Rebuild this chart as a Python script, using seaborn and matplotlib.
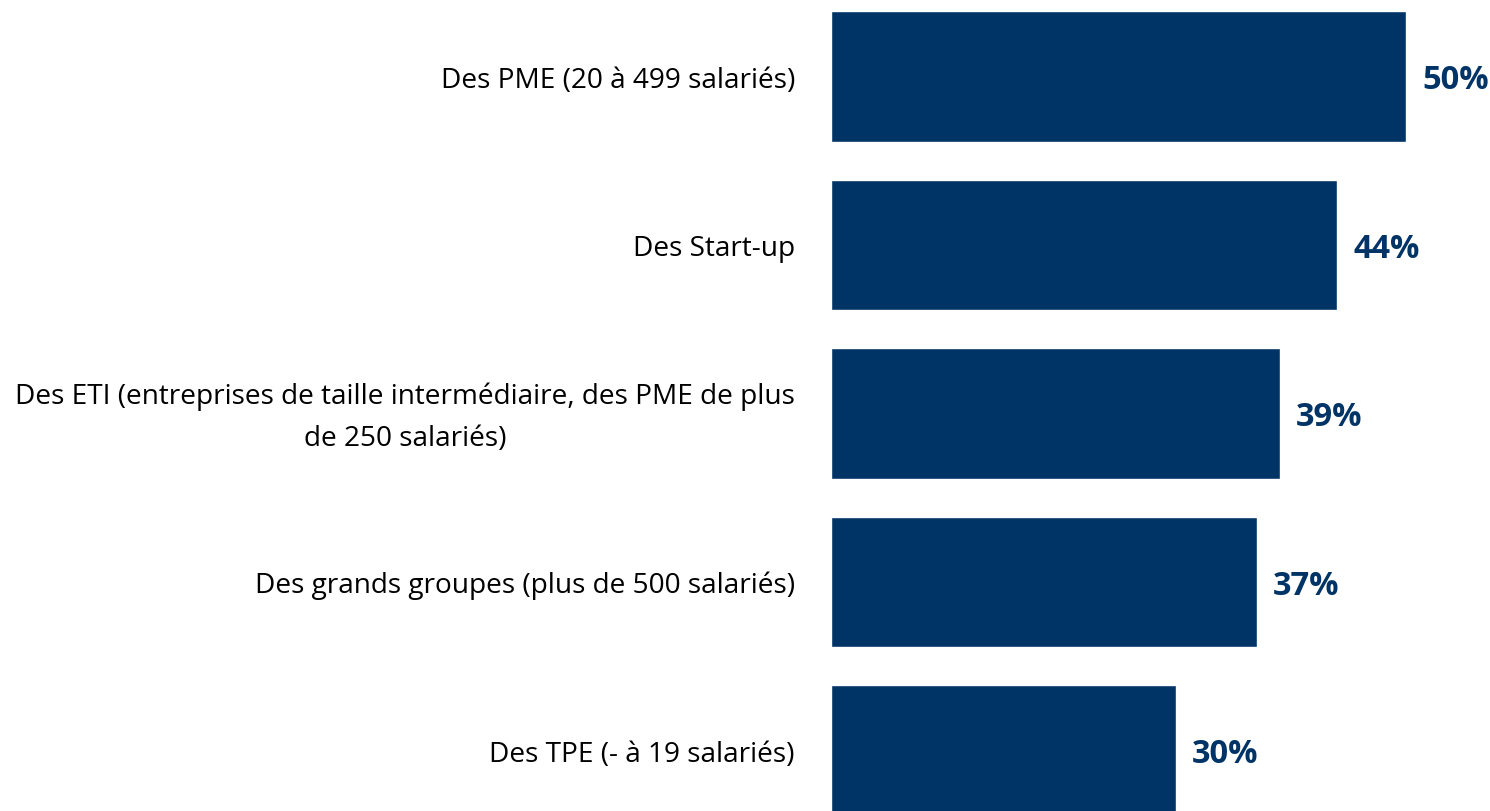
import matplotlib
matplotlib.use("Agg")
import matplotlib.pyplot as plt
import seaborn as sns
import pandas as pd

categories = [
    "Des PME (20 à 499 salariés)",
    "Des Start-up",
    "Des ETI (entreprises de taille intermédiaire, des PME de plus\nde 250 salariés)",
    "Des grands groupes (plus de 500 salariés)",
    "Des TPE (- à 19 salariés)",
]
values = [50, 44, 39, 37, 30]
value_labels = ["50%", "44%", "39%", "37%", "30%"]

BAR = "#003466"
sns.set_theme(style="white")
plt.rcParams['font.family'] = ['Open Sans', 'DejaVu Sans']

W, H = 1490, 812
fig = plt.figure(figsize=(W / 100, H / 100), dpi=100)
px_per_unit = 11.5
xmax = 57
left = 831 / W
ax = fig.add_axes([left, 0, xmax * px_per_unit / W, 1])

df = pd.DataFrame({"cat": categories, "val": values})
sns.barplot(data=df, y="cat", x="val", orient="h", color=BAR, width=0.772,
            saturation=1, ax=ax)

pitch = 168.5
top = -77.5 / pitch
bottom = 4 + (812 - 751.5) / pitch
ax.set_ylim(bottom, top)
ax.set_xlim(0, xmax)

for i, (v, lab) in enumerate(zip(values, value_labels)):
    ax.text(v + 16 / px_per_unit, i + 0.02, lab, va="center", ha="left",
            fontsize=23.5, fontweight="bold", color=BAR)

ax.set_yticks([])
ax.set_xticks([])
ax.set_xlabel("")
ax.set_ylabel("")
for s in ax.spines.values():
    s.set_visible(False)

for i, c in enumerate(categories):
    ax.text(-36 / px_per_unit, i + 0.018, c, ha="right", va="center",
            multialignment="center", fontsize=20.15, color="black",
            linespacing=1.65)

fig.savefig("out.png", dpi=100)
